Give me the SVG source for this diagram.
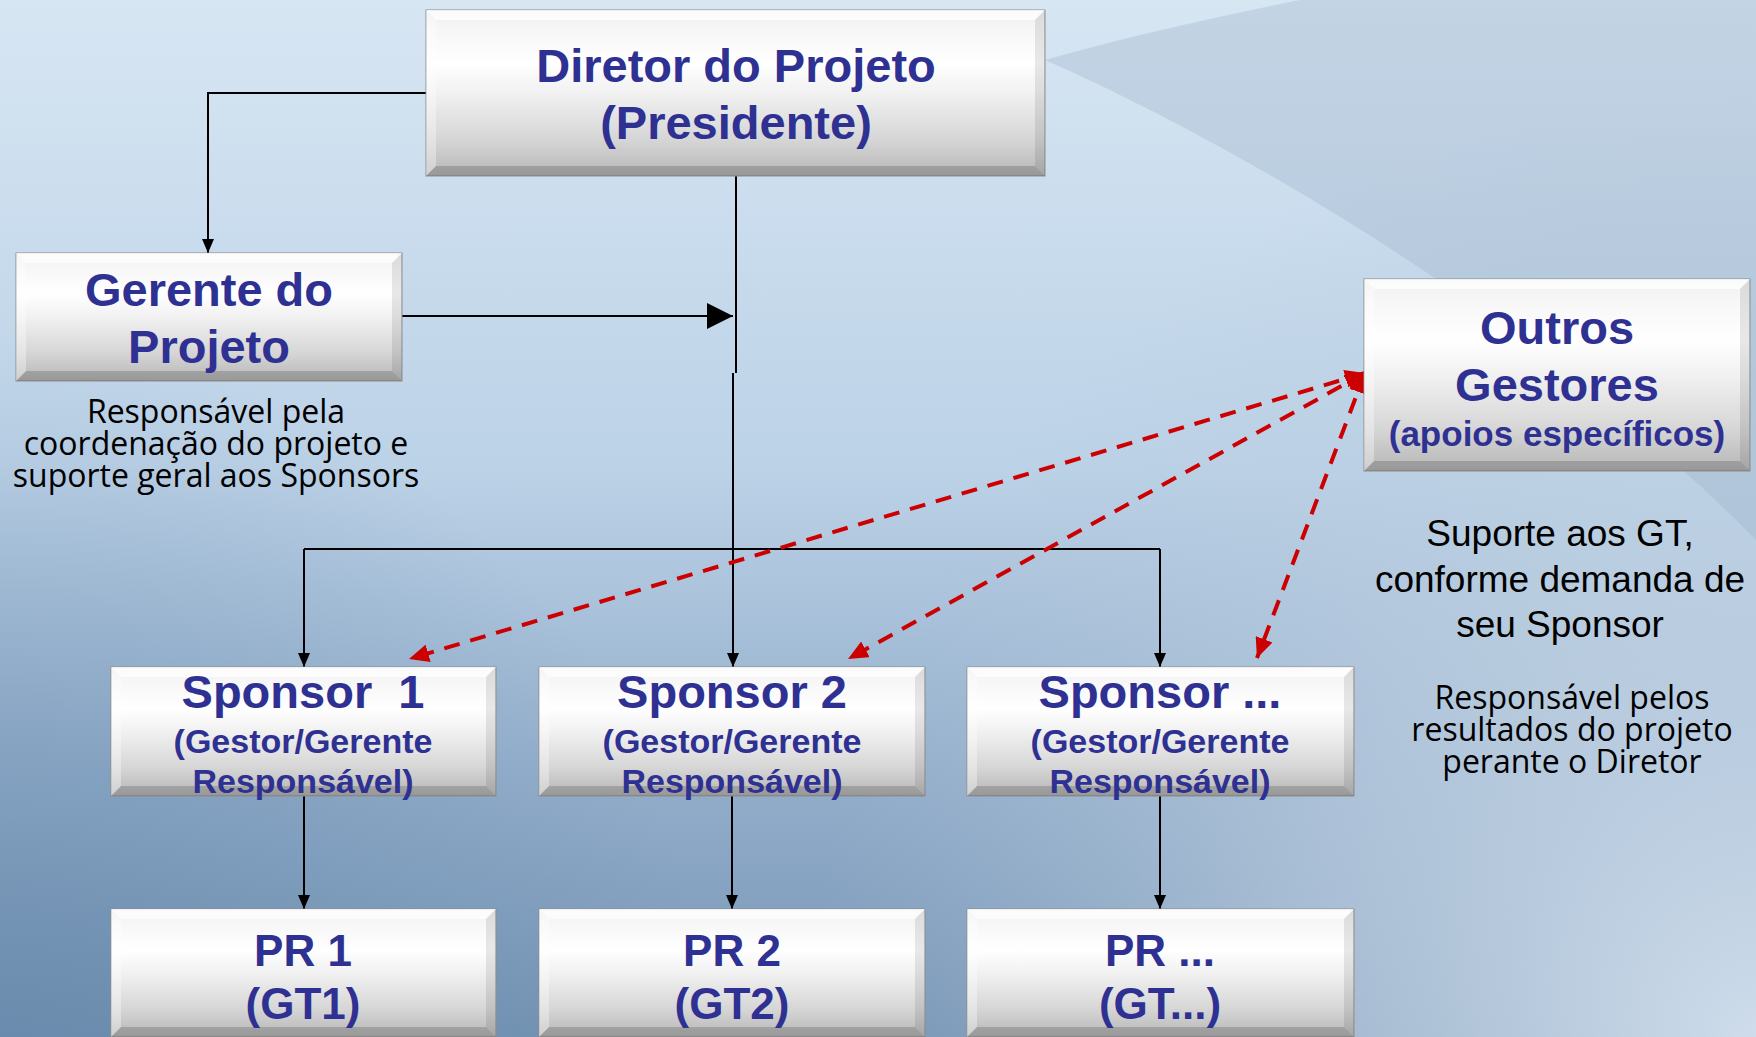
<svg xmlns="http://www.w3.org/2000/svg" width="1756" height="1037" viewBox="0 0 1756 1037">
<defs>
<style>
.bx{fill:url(#boxG);stroke:#8e8e8e;stroke-width:1}
.bt{fill:#ffffff;opacity:.75}
.bb{fill:#000;opacity:.16}
.bl{fill:#fff;opacity:.35}
.br{fill:#000;opacity:.09}
.tt{font-family:"Liberation Sans",Arial,sans-serif;font-weight:bold;fill:#2e3192;text-anchor:middle}
.h47{font-size:47px}
.h44{font-size:44px}
.h34{font-size:34px}
.h35{font-size:35px}
.desc{font-family:"Open Sans","Noto Sans",sans-serif;font-size:32px;fill:#000;text-anchor:middle}
.desc2{font-family:"Liberation Sans",Arial,sans-serif;font-size:37px;fill:#000;text-anchor:middle}
.ln{fill:none;stroke:#000;stroke-width:2}
.rd{fill:none;stroke:#cc0000;stroke-width:4;stroke-dasharray:16 11}
</style>
<linearGradient id="bg" x1="0" y1="0" x2="0" y2="1">
<stop offset="0" stop-color="#d7e6f3"/>
<stop offset="0.45" stop-color="#bcd2e7"/>
<stop offset="0.75" stop-color="#93aecb"/>
<stop offset="1" stop-color="#7594b4"/>
</linearGradient>
<radialGradient id="br" cx="1756" cy="1037" r="950" gradientUnits="userSpaceOnUse">
<stop offset="0" stop-color="#d3e0ee" stop-opacity="0.95"/>
<stop offset="0.5" stop-color="#c4d4e4" stop-opacity="0.55"/>
<stop offset="1" stop-color="#b0c4d8" stop-opacity="0"/>
</radialGradient>
<radialGradient id="bl" cx="0" cy="1037" r="700" gradientUnits="userSpaceOnUse">
<stop offset="0" stop-color="#5f82a6" stop-opacity="0.5"/>
<stop offset="1" stop-color="#5f82a6" stop-opacity="0"/>
</radialGradient>
<linearGradient id="boxG" x1="0" y1="0" x2="0" y2="1">
<stop offset="0" stop-color="#efefef"/>
<stop offset="0.1" stop-color="#f6f6f6"/>
<stop offset="0.32" stop-color="#ffffff"/>
<stop offset="0.5" stop-color="#f1f1f1"/>
<stop offset="0.78" stop-color="#d6d6d6"/>
<stop offset="1" stop-color="#b6b6b6"/>
</linearGradient>
<marker id="ah" markerUnits="userSpaceOnUse" markerWidth="14" markerHeight="12" refX="14" refY="6" orient="auto">
<path d="M0,0 L14,6 L0,12 z" fill="#000"/>
</marker>
<marker id="ahBig" markerUnits="userSpaceOnUse" markerWidth="26" markerHeight="26" refX="26" refY="13" orient="auto">
<path d="M0,0 L26,13 L0,26 z" fill="#000"/>
</marker>
<marker id="ahRed" markerUnits="userSpaceOnUse" markerWidth="20" markerHeight="18" refX="20" refY="9" orient="auto-start-reverse">
<path d="M0,0 L20,9 L0,18 z" fill="#cc0000"/>
</marker>
</defs>

<g id="background">
<rect x="0" y="0" width="1756" height="1037" fill="url(#bg)"/>
<rect x="0" y="0" width="1756" height="1037" fill="url(#bl)"/>
<rect x="0" y="0" width="1756" height="1037" fill="url(#br)"/>
<path d="M1045,60 C1250,150 1550,330 1756,540 L1756,0 L1300,0 Q1150,30 1045,60 Z" fill="#9fb3c8" opacity="0.35"/>
</g>

<g id="connectors">
<polyline class="ln" points="426,93 208,93 208,253" marker-end="url(#ah)"/>
<path class="ln" d="M736,176 V373"/>
<path class="ln" d="M733,373 V667" marker-end="url(#ah)"/>
<path class="ln" d="M402,316 H733" stroke-width="3" marker-end="url(#ahBig)"/>
<path class="ln" d="M304,549 H1160" stroke-width="2.5"/>
<path class="ln" d="M304,549 V667" marker-end="url(#ah)"/>
<path class="ln" d="M1160,549 V667" marker-end="url(#ah)"/>
<path class="ln" d="M304,796 V909" marker-end="url(#ah)"/>
<path class="ln" d="M732,796 V909" marker-end="url(#ah)"/>
<path class="ln" d="M1160,796 V909" marker-end="url(#ah)"/>
<path class="rd" d="M1365,373 L409,659" marker-start="url(#ahRed)" marker-end="url(#ahRed)"/>
<path class="rd" d="M1365,373 L848,659" marker-start="url(#ahRed)" marker-end="url(#ahRed)"/>
<path class="rd" d="M1365,373 L1257,658" marker-start="url(#ahRed)" marker-end="url(#ahRed)"/>
</g>

<g id="diretor">
<rect class="bx" x="426" y="10" width="619" height="166"/>
<polygon class="bt" points="426,10 1045,10 1035,20 436,20"/>
<polygon class="bb" points="426,176 1045,176 1035,166 436,166"/>
<polygon class="bl" points="426,10 436,20 436,166 426,176"/>
<polygon class="br" points="1045,10 1035,20 1035,166 1045,176"/>
<text class="tt h47" x="736" y="82">Diretor do Projeto</text>
<text class="tt h47" x="736" y="139">(Presidente)</text>
</g>

<g id="gerente">
<rect class="bx" x="16" y="253" width="386" height="128"/>
<polygon class="bt" points="16,253 402,253 392,263 26,263"/>
<polygon class="bb" points="16,381 402,381 392,371 26,371"/>
<polygon class="bl" points="16,253 26,263 26,371 16,381"/>
<polygon class="br" points="402,253 392,263 392,371 402,381"/>
<text class="tt h47" x="209" y="306">Gerente do</text>
<text class="tt h47" x="209" y="363">Projeto</text>
</g>

<g id="gerente-desc">
<text class="desc" x="216" y="423">Responsável pela</text>
<text class="desc" x="216" y="455">coordenação do projeto e</text>
<text class="desc" x="216" y="487">suporte geral aos Sponsors</text>
</g>

<g id="outros">
<rect class="bx" x="1364" y="279" width="386" height="192"/>
<polygon class="bt" points="1364,279 1750,279 1740,289 1374,289"/>
<polygon class="bb" points="1364,471 1750,471 1740,461 1374,461"/>
<polygon class="bl" points="1364,279 1374,289 1374,461 1364,471"/>
<polygon class="br" points="1750,279 1740,289 1740,461 1750,471"/>
<text class="tt h47" x="1557" y="344">Outros</text>
<text class="tt h47" x="1557" y="401">Gestores</text>
<text class="tt h35" x="1557" y="446">(apoios específicos)</text>
</g>

<g id="outros-desc">
<text class="desc2" x="1560" y="546">Suporte aos GT,</text>
<text class="desc2" x="1560" y="592">conforme demanda de</text>
<text class="desc2" x="1560" y="637">seu Sponsor</text>
</g>

<g id="sponsor-desc">
<text class="desc" x="1572" y="709">Responsável pelos</text>
<text class="desc" x="1572" y="741">resultados do projeto</text>
<text class="desc" x="1572" y="773">perante o Diretor</text>
</g>

<g id="sponsor1">
<rect class="bx" x="111" y="667" width="385" height="129"/>
<polygon class="bt" points="111,667 496,667 486,677 121,677"/>
<polygon class="bb" points="111,796 496,796 486,786 121,786"/>
<polygon class="bl" points="111,667 121,677 121,786 111,796"/>
<polygon class="br" points="496,667 486,677 486,786 496,796"/>
<text class="tt h47" x="303" y="708" xml:space="preserve" style="white-space:pre">Sponsor  1</text>
<text class="tt h34" x="303" y="753">(Gestor/Gerente</text>
<text class="tt h34" x="303" y="793">Responsável)</text>
</g>

<g id="sponsor2">
<rect class="bx" x="539" y="667" width="386" height="129"/>
<polygon class="bt" points="539,667 925,667 915,677 549,677"/>
<polygon class="bb" points="539,796 925,796 915,786 549,786"/>
<polygon class="bl" points="539,667 549,677 549,786 539,796"/>
<polygon class="br" points="925,667 915,677 915,786 925,796"/>
<text class="tt h47" x="732" y="708">Sponsor 2</text>
<text class="tt h34" x="732" y="753">(Gestor/Gerente</text>
<text class="tt h34" x="732" y="793">Responsável)</text>
</g>

<g id="sponsor3">
<rect class="bx" x="967" y="667" width="387" height="129"/>
<polygon class="bt" points="967,667 1354,667 1344,677 977,677"/>
<polygon class="bb" points="967,796 1354,796 1344,786 977,786"/>
<polygon class="bl" points="967,667 977,677 977,786 967,796"/>
<polygon class="br" points="1354,667 1344,677 1344,786 1354,796"/>
<text class="tt h47" x="1160" y="708">Sponsor ...</text>
<text class="tt h34" x="1160" y="753">(Gestor/Gerente</text>
<text class="tt h34" x="1160" y="793">Responsável)</text>
</g>

<g id="pr1">
<rect class="bx" x="111" y="909" width="385" height="128"/>
<polygon class="bt" points="111,909 496,909 486,919 121,919"/>
<polygon class="bb" points="111,1037 496,1037 486,1027 121,1027"/>
<polygon class="bl" points="111,909 121,919 121,1027 111,1037"/>
<polygon class="br" points="496,909 486,919 486,1027 496,1037"/>
<text class="tt h44" x="303" y="966">PR 1</text>
<text class="tt h44" x="303" y="1019">(GT1)</text>
</g>

<g id="pr2">
<rect class="bx" x="539" y="909" width="386" height="128"/>
<polygon class="bt" points="539,909 925,909 915,919 549,919"/>
<polygon class="bb" points="539,1037 925,1037 915,1027 549,1027"/>
<polygon class="bl" points="539,909 549,919 549,1027 539,1037"/>
<polygon class="br" points="925,909 915,919 915,1027 925,1037"/>
<text class="tt h44" x="732" y="966">PR 2</text>
<text class="tt h44" x="732" y="1019">(GT2)</text>
</g>

<g id="pr3">
<rect class="bx" x="967" y="909" width="387" height="128"/>
<polygon class="bt" points="967,909 1354,909 1344,919 977,919"/>
<polygon class="bb" points="967,1037 1354,1037 1344,1027 977,1027"/>
<polygon class="bl" points="967,909 977,919 977,1027 967,1037"/>
<polygon class="br" points="1354,909 1344,919 1344,1027 1354,1037"/>
<text class="tt h44" x="1160" y="966">PR ...</text>
<text class="tt h44" x="1160" y="1019">(GT...)</text>
</g>
</svg>
